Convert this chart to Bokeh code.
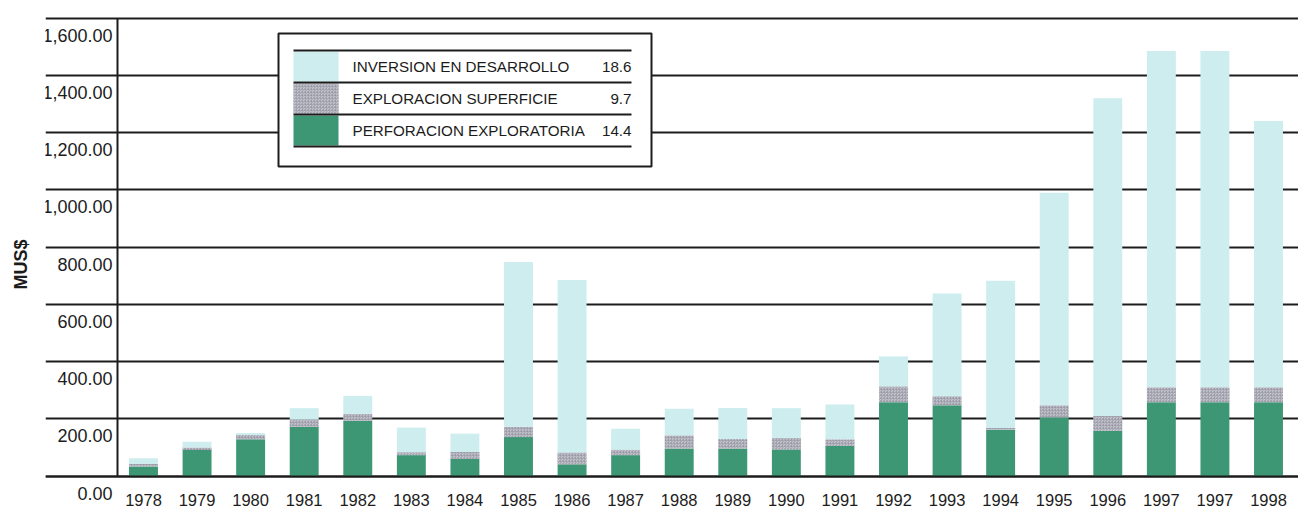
from bokeh.plotting import figure
from bokeh.models import (ColumnDataSource, FixedTicker, Range1d, Label, BoxAnnotation)
from bokeh.transform import stack
from bokeh.embed import file_html
from bokeh.resources import INLINE

# ---------------- data ----------------
years = ["1978", "1979", "1980", "1981", "1982", "1983", "1984", "1985", "1986",
         "1987", "1988", "1989", "1990", "1991", "1992", "1993", "1994", "1995",
         "1996", "1997", "1997", "1998"]
perforacion = [33, 91, 128, 172, 193, 73, 60, 136, 41, 73, 96, 96, 93, 105,
               258, 247, 162, 205, 158, 258, 258, 258]
exploracion = [9, 9, 15, 26, 24, 10, 24, 36, 41, 19, 46, 33, 40, 23,
               55, 32, 6, 42, 52, 52, 52, 52]
inversion = [20, 20, 7, 39, 63, 86, 64, 576, 603, 73, 93, 109, 104, 122,
             105, 359, 514, 743, 1110, 1175, 1175, 930]

series_names = ["PERFORACION EXPLORATORIA", "EXPLORACION SUPERFICIE",
                "INVERSION EN DESARROLLO"]
legend_values = ["14.4", "9.7", "18.6"]
y_title = "MUS$"
y_ticks = [0, 200, 400, 600, 800, 1000, 1200, 1400, 1600]
y_tick_labels = ["0.00", "200.00", "400.00", "600.00", "800.00", "1,000.00",
                 "1,200.00", "1,400.00", "1,600.00"]

# ---------------- styles ----------------
GREEN = "#3d9674"
GREY = "#c4c4cc"
LIGHT = "#cdedef"
INK = "#1c1c1c"
FONT = "Liberation Sans"
HATCH = dict(hatch_pattern="criss_cross", hatch_color="#9494a2", hatch_scale=3,
             hatch_weight=0.6, hatch_alpha=0.8)

xs = list(range(len(years)))
src = ColumnDataSource(dict(x=xs, perf=perforacion, expl=exploracion, inv=inversion))

# frame reaches the bottom of the canvas so the value labels below the
# baseline stay visible; the x axis is pinned to y = 0
p = figure(width=1298, height=513,
           x_range=Range1d(-1.829, 21.56), y_range=Range1d(-131, 1609),
           output_backend="svg", toolbar_location=None,
           min_border_left=45, min_border_right=0, min_border_top=15,
           min_border_bottom=0)
p.outline_line_color = None
p.background_fill_color = "white"

# bars
bw = 0.54
p.vbar(x="x", width=bw, bottom=0, top=stack("perf"), source=src,
       fill_color=GREEN, line_color=None)
p.vbar(x="x", width=bw, bottom=stack("perf"), top=stack("perf", "expl"), source=src,
       fill_color=GREY, line_color=None, **HATCH)
p.vbar(x="x", width=bw, bottom=stack("perf", "expl"), top=stack("perf", "expl", "inv"),
       source=src, fill_color=LIGHT, line_color=None)

# grid
p.xgrid.visible = False
p.ygrid.ticker = FixedTicker(ticks=y_ticks)
p.ygrid.grid_line_color = INK
p.ygrid.grid_line_width = 2

# x axis, pinned at zero
p.xaxis.fixed_location = 0
p.xaxis.ticker = FixedTicker(ticks=xs)
p.xaxis.major_label_overrides = {i: y for i, y in enumerate(years)}
p.xaxis.axis_line_color = INK
p.xaxis.axis_line_width = 2
p.xaxis.major_tick_line_color = None
p.xaxis.minor_tick_line_color = None
p.xaxis.major_label_standoff = 12
p.xaxis.major_label_text_font = FONT
p.xaxis.major_label_text_font_size = "16.5px"
p.xaxis.major_label_text_color = INK

# y axis: title only
p.yaxis.ticker = FixedTicker(ticks=[])
p.yaxis.axis_line_color = None
p.yaxis.major_tick_line_color = None
p.yaxis.minor_tick_line_color = None
p.yaxis.major_label_standoff = 0
p.yaxis.axis_label = y_title
p.yaxis.axis_label_text_font = FONT
p.yaxis.axis_label_text_font_style = "bold"
p.yaxis.axis_label_text_font_size = "18px"
p.yaxis.axis_label_text_color = INK
p.yaxis.axis_label_standoff = 15

# vertical axis line from 0 to the top tick
p.add_layout(BoxAnnotation(left=71, right=73, left_units="screen", right_units="screen",
                           bottom=y_ticks[0], top=y_ticks[-1],
                           fill_color=INK, fill_alpha=1.0, line_color=None))

# y tick labels (sit just below their grid lines)
for yv, txt in zip(y_ticks, y_tick_labels):
    p.add_layout(Label(x=67, x_units="screen", y=yv, y_units="data", y_offset=-17,
                       text=txt, text_align="right", text_baseline="middle",
                       text_font=FONT, text_font_size="18px", text_color=INK))

# ---------------- custom legend (screen units, frame relative) ----------------
L_left, L_right, L_top, L_bottom = 233, 606, 480, 347
p.add_layout(BoxAnnotation(left=L_left, right=L_right, top=L_top, bottom=L_bottom,
                           left_units="screen", right_units="screen",
                           top_units="screen", bottom_units="screen",
                           fill_color="white", fill_alpha=1.0,
                           line_color=INK, line_width=2, line_alpha=1.0))
row_x0, row_x1 = 248, 586
row_top0 = 463
row_h = 32
sw_w = 45
legend_rows = [(series_names[2], legend_values[2], LIGHT, False),
               (series_names[1], legend_values[1], GREY, True),
               (series_names[0], legend_values[0], GREEN, False)]
for i, (name, val, col, hatched) in enumerate(legend_rows):
    top = row_top0 - i * row_h
    bot = top - row_h
    kw = HATCH if hatched else {}
    p.add_layout(BoxAnnotation(left=row_x0, right=row_x0 + sw_w, top=top - 1, bottom=bot + 1,
                               left_units="screen", right_units="screen",
                               top_units="screen", bottom_units="screen",
                               fill_color=col, fill_alpha=1.0, line_color=None, **kw))
    mid = (top + bot) / 2
    p.add_layout(Label(x=row_x0 + sw_w + 14, y=mid, x_units="screen", y_units="screen",
                       text=name, text_align="left", text_baseline="middle",
                       text_font=FONT, text_font_size="15.2px", text_color=INK))
    p.add_layout(Label(x=row_x1, y=mid, x_units="screen", y_units="screen",
                       text=val, text_align="right", text_baseline="middle",
                       text_font=FONT, text_font_size="15.2px", text_color=INK))
for i in range(len(legend_rows) + 1):
    yy = row_top0 - i * row_h
    p.add_layout(BoxAnnotation(left=row_x0, right=row_x1, top=yy + 1, bottom=yy - 1,
                               left_units="screen", right_units="screen",
                               top_units="screen", bottom_units="screen",
                               fill_color=INK, fill_alpha=1.0, line_color=None))

open("out.html", "w").write(file_html(p, INLINE))
